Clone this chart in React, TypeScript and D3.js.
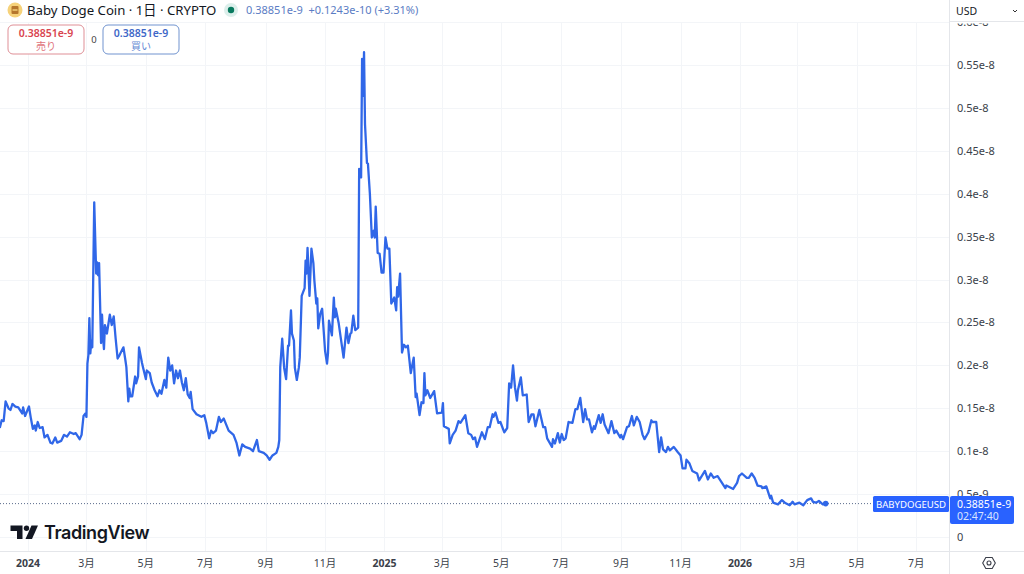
import React from "react";
import * as d3 from "d3";

// days since 2024-01-01
const tradeDays = [-29,-27,-25,-23,-20,-18,-16,-13,-10,-6,-5,-3,1,3,5,7,8,10,12,15,17,20,23,25,28,30,34,37,40,43,47,49,53,55,57,59,60,61,62,63,64,65,66,68,70,71,72,73,75,76,77,78,79,81,84,86,88,90,92,94,98,100,101,103,104,105,107,110,111,113,114,117,118,121,122,125,127,130,133,135,137,140,142,144,146,148,150,152,154,156,158,160,162,164,166,167,169,173,178,181,183,186,188,190,193,196,198,201,206,211,214,217,220,223,228,231,235,237,242,245,248,251,255,257,258,259,261,263,265,267,268,270,271,273,274,276,278,279,281,284,285,286,287,289,291,293,294,296,297,298,300,302,305,307,308,309,312,314,315,316,319,321,324,327,329,331,332,334,336,339,340,342,343,344,345,346,348,349,351,353,355,356,357,359,361,363,365,367,369,371,373,376,378,379,380,382,384,386,388,390,393,396,398,399,402,404,406,407,408,410,413,417,420,425,426,427,432,433,436,439,442,444,449,452,455,457,459,461,466,469,472,474,477,478,480,483,485,489,492,494,496,498,500,502,503,506,508,512,514,517,519,521,525,529,531,533,538,539,541,544,546,548,550,552,555,559,562,564,567,570,572,574,576,579,581,582,586,588,590,592,596,599,602,604,608,609,611,615,617,620,622,625,628,631,633,637,640,641,645,648,650,652,655,657,659,663,667,670,672,675,676,679,682,687,689,695,698,701,704,708,712,716,717,724,728,730,733,738,740,743,746,749,753,754,758,762,763,765,770,774,777,782,785,787,792,796,800,804,806,809,812,816,819];
// closing price in units of 1e-8 USD
const closePrices = [.127,.136,.135,.158,.150,.148,.155,.152,.151,.144,.151,.141,.152,.138,.126,.130,.124,.134,.127,.128,.116,.119,.110,.109,.116,.110,.112,.119,.117,.122,.120,.121,.114,.119,.141,.144,.140,.202,.212,.255,.214,.229,.221,.390,.307,.320,.305,.319,.226,.259,.233,.219,.247,.237,.259,.247,.257,.231,.208,.212,.221,.206,.198,.158,.173,.164,.164,.187,.179,.187,.221,.203,.198,.184,.194,.191,.180,.171,.164,.171,.167,.183,.174,.209,.194,.200,.179,.194,.185,.194,.180,.171,.185,.166,.162,.169,.149,.143,.140,.142,.133,.115,.124,.121,.124,.140,.134,.138,.124,.119,.110,.095,.108,.105,.103,.100,.113,.100,.098,.095,.090,.095,.098,.105,.113,.198,.231,.197,.184,.223,.223,.264,.237,.229,.197,.183,.197,.209,.281,.290,.322,.307,.337,.281,.336,.319,.299,.272,.278,.243,.260,.266,.217,.202,.214,.252,.235,.279,.256,.266,.249,.233,.209,.244,.226,.237,.238,.258,.241,.244,.429,.419,.557,.514,.565,.481,.436,.435,.400,.349,.357,.349,.385,.331,.330,.308,.308,.349,.336,.336,.272,.279,.264,.291,.280,.307,.215,.224,.221,.223,.191,.209,.163,.167,.142,.157,.156,.191,.165,.171,.162,.170,.144,.145,.156,.129,.126,.109,.119,.124,.135,.133,.142,.121,.119,.114,.116,.105,.122,.114,.128,.128,.143,.140,.145,.133,.134,.122,.127,.179,.174,.200,.174,.159,.171,.186,.165,.166,.134,.143,.143,.129,.148,.128,.128,.115,.105,.114,.109,.121,.110,.120,.113,.115,.134,.133,.149,.149,.162,.134,.149,.137,.137,.122,.129,.126,.142,.133,.143,.131,.121,.135,.121,.124,.116,.119,.114,.128,.129,.141,.130,.140,.134,.119,.114,.122,.136,.134,.134,.099,.116,.102,.099,.105,.101,.105,.099,.095,.080,.080,.090,.086,.077,.074,.066,.077,.067,.074,.069,.071,.064,.057,.060,.056,.063,.071,.074,.069,.069,.074,.069,.060,.059,.057,.059,.045,.048,.040,.038,.043,.040,.037,.041,.038,.040,.037,.043,.045,.041,.040,.042,.038,.0389];

const priceTicks = [0,.05,.1,.15,.2,.25,.3,.35,.4,.45,.5,.55,.6];
const priceLabels = ["0","0.5e-9","0.1e-8","0.15e-8","0.2e-8","0.25e-8","0.3e-8","0.35e-8","0.4e-8","0.45e-8","0.5e-8","0.55e-8","0.6e-8"];
const timeTicks = ["2024-01-01","2024-03-01","2024-05-01","2024-07-01","2024-09-01","2024-11-01","2025-01-01","2025-03-01","2025-05-01","2025-07-01","2025-09-01","2025-11-01","2026-01-01","2026-03-01","2026-05-01","2026-07-01"];
const timeLabels = ["2024","3月","5月","7月","9月","11月","2025","3月","5月","7月","9月","11月","2026","3月","5月","7月"];

const lastPrice = "0.38851e-9";
const LINE = "#3067e8";
const FONT = "'Noto Sans','Noto Sans CJK JP',sans-serif";
const W = 1024, H = 574, PLOT_R = 949.5, PLOT_B = 551;

export default function App() {
  const origin = new Date(Date.UTC(2024, 0, 1));
  const x = d3.scaleUtc().domain([origin, new Date(Date.UTC(2026, 0, 1))]).range([28, 740]);
  const y = d3.scaleLinear().domain([0, .55]).range([537, 65]);
  const dates = tradeDays.map((d) => d3.utcDay.offset(origin, d));
  const line = d3.line<number>()
    .x((_, i) => x(dates[i]))
    .y((d) => y(d));
  const endX = x(dates[dates.length - 1]);
  const endY = y(closePrices[closePrices.length - 1]);
  const timeX = timeTicks.map((t) => x(new Date(t + "T00:00:00Z")));

  return (
    <svg width={W} height={H} viewBox={`0 0 ${W} ${H}`} fontFamily={FONT}
      style={{ position: "absolute", left: 0, top: 0, display: "block", background: "#fff" }}>
      <defs>
        <clipPath id="plot"><rect x={0} y={22} width={PLOT_R} height={PLOT_B - 22} /></clipPath>
        <clipPath id="scale"><rect x={950} y={23.5} width={74} height={PLOT_B - 23.5} /></clipPath>
      </defs>

      {/* grid */}
      <g stroke="#f3f5f8" strokeWidth={1}>
        {priceTicks.map((p) => (
          <line key={p} x1={0} x2={PLOT_R} y1={Math.round(y(p)) + .5} y2={Math.round(y(p)) + .5} />
        ))}
        {timeX.map((v, i) => (
          <line key={i} x1={Math.round(v) + .5} x2={Math.round(v) + .5} y1={22} y2={PLOT_B} />
        ))}
      </g>

      {/* last-price guide */}
      <line x1={0} x2={PLOT_R} y1={endY} y2={endY} stroke="#5a6b8c" strokeWidth={1} strokeDasharray="1 2" />

      {/* series */}
      <g clipPath="url(#plot)">
        <path d={line(closePrices) ?? ""} fill="none" stroke={LINE} strokeWidth={2.3} strokeLinejoin="round" />
      </g>
      <circle cx={endX} cy={endY} r={2.8} fill={LINE} />

      {/* frame */}
      <line x1={PLOT_R} x2={PLOT_R} y1={0} y2={H} stroke="#e4e6ea" />
      <line x1={0} x2={W} y1={PLOT_B + .5} y2={PLOT_B + .5} stroke="#e4e6ea" />
      <line x1={950} x2={W} y1={21.5} y2={21.5} stroke="#e4e6ea" />

      {/* price axis */}
      <g clipPath="url(#scale)" fontSize={11} fill="#3b3f4a">
        {priceTicks.map((p, i) => (
          <text key={p} x={957} y={y(p) + 4}>{priceLabels[i]}</text>
        ))}
      </g>
      <text x={956} y={15} fontSize={10.5} fill="#131722">USD</text>
      <path d="M1013 10l2 2l2-2" fill="none" stroke="#333" strokeWidth={1} />

      {/* time axis */}
      <g fontSize={10.5} fill="#3b3f4a" textAnchor="middle">
        {timeLabels.map((t, i) => (
          <text key={i} x={timeX[i]} y={567} fontWeight={/^\d{4}$/.test(t) ? 700 : 400}>{t}</text>
        ))}
      </g>
      <g transform="translate(989,563)" fill="none" stroke="#3b3f4a" strokeWidth={1.1}>
        <path d="M-3.2-5.5H3.2L6.3 0L3.2 5.5H-3.2L-6.3 0Z" />
        <circle r={2} />
      </g>

      {/* last-price tags */}
      <rect x={873} y={496} width={76} height={16} rx={1.5} fill="#2962ff" />
      <text x={911} y={507.5} fontSize={9.6} textAnchor="middle" fill="#fff">BABYDOGEUSD</text>
      <rect x={950} y={496} width={64} height={28} rx={2} fill="#2962ff" />
      <text x={957} y={508} fontSize={10.5} fill="#fff">{lastPrice}</text>
      <text x={957} y={520} fontSize={10.5} fill="#dbe4ff">02:47:40</text>

      {/* header */}
      <circle cx={15} cy={10} r={7.5} fill="#f6d27a" />
      <rect x={11.5} y={6} width={7} height={8} rx={1} fill="#b5762c" />
      <rect x={12.5} y={9.3} width={5} height={1.4} fill="#f6d27a" />
      <text x={27} y={15} fontSize={13.2} fill="#131722">Baby Doge Coin · 1日 · CRYPTO</text>
      <circle cx={231} cy={10} r={7} fill="#dcefeb" />
      <circle cx={231} cy={10} r={3.2} fill="#087a5f" />
      <text x={246} y={14} fontSize={11} fill="#5b7cc4">{lastPrice}</text>
      <text x={308.5} y={14} fontSize={11} fill="#5b7cc4">+0.1243e-10 (+3.31%)</text>

      {/* order buttons */}
      <rect x={8} y={25} width={76} height={29} rx={5} fill="#fff" stroke="#df8f96" />
      <text x={46} y={37} fontSize={10.5} fontWeight={600} textAnchor="middle" fill="#d9444f">{lastPrice}</text>
      <text x={46} y={50} fontSize={10} textAnchor="middle" fill="#e0727a">売り</text>
      <text x={94} y={43} fontSize={9.5} textAnchor="middle" fill="#444">0</text>
      <rect x={103} y={25} width={76} height={29} rx={5} fill="#fff" stroke="#7093cf" />
      <text x={141} y={37} fontSize={10.5} fontWeight={600} textAnchor="middle" fill="#3f68c8">{lastPrice}</text>
      <text x={141} y={50} fontSize={10} textAnchor="middle" fill="#6488d4">買い</text>

      {/* watermark */}
      <g fill="#131722">
        <path d="M10.5 525.5H22.5V539H17V531H10.5Z" />
        <circle cx={26.5} cy={528.2} r={2.7} />
        <path d="M31.5 525.5H38L32 539H25.5Z" />
      </g>
      <text x={44} y={539} fontFamily="Inter, 'Noto Sans', sans-serif" fontSize={18} fontWeight={600}
        letterSpacing={-0.4} fill="#131722">TradingView</text>
    </svg>
  );
}
